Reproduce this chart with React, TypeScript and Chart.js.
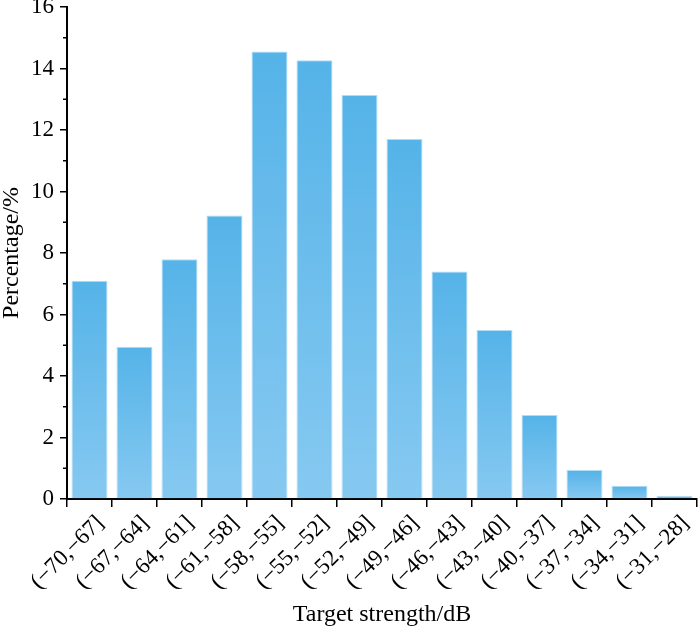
import React, { useEffect, useRef } from "react";
import { Chart, registerables } from "chart.js";

Chart.register(...registerables);

// bins of target strength (dB)
const categories: string[] = [
  "(−70,−67]", "(−67,−64]", "(−64,−61]", "(−61,−58]", "(−58,−55]",
  "(−55,−52]", "(−52,−49]", "(−49,−46]", "(−46,−43]", "(−43,−40]",
  "(−40,−37]", "(−37,−34]", "(−34,−31]", "(−31,−28]",
];
// percentage in each bin
const percentages: number[] = [
  7.1, 4.95, 7.8, 9.22, 14.55, 14.27, 13.14, 11.71, 7.4, 5.5, 2.73, 0.94, 0.43, 0.1,
];
const yTicks: number[] = [0, 2, 4, 6, 8, 10, 12, 14, 16];
const yMinorTicks: number[] = [1, 3, 5, 7, 9, 11, 13, 15];

const FONT = "'Liberation Serif', 'Times New Roman', serif";

// little minor ticks on the y axis
const minorTicks = {
  id: "minorTicks",
  afterDraw(chart: any) {
    const { ctx, scales } = chart;
    const y = scales.y;
    const x0 = y.right;
    ctx.save();
    ctx.strokeStyle = "#000";
    ctx.lineWidth = 1.5;
    yMinorTicks.forEach((v) => {
      const py = y.getPixelForValue(v);
      ctx.beginPath();
      ctx.moveTo(x0 - 4, py);
      ctx.lineTo(x0, py);
      ctx.stroke();
    });
    ctx.restore();
  },
};

const App: React.FC = () => {
  const canvasRef = useRef<HTMLCanvasElement | null>(null);
  const chartRef = useRef<Chart | null>(null);

  useEffect(() => {
    document.body.style.margin = "0";
    if (!canvasRef.current) return;
    if (chartRef.current) chartRef.current.destroy();

    chartRef.current = new Chart(canvasRef.current, {
      type: "bar",
      data: {
        labels: categories,
        datasets: [
          {
            data: percentages,
            backgroundColor: (c: any) => {
              const chart = c.chart;
              const ys = chart.scales?.y;
              if (!ys || c.raw === undefined) return "#6cbfee";
              const top = ys.getPixelForValue(c.raw);
              const bottom = ys.getPixelForValue(0);
              if (!isFinite(top) || bottom - top < 1) return "#7cc6ef";
              const g = chart.ctx.createLinearGradient(0, top, 0, bottom);
              g.addColorStop(0, "#55b3e8");
              g.addColorStop(1, "#86c9f1");
              return g;
            },
            borderColor: "rgba(170,216,245,0.9)",
            borderWidth: 1,
            categoryPercentage: 1,
            barPercentage: 0.8,
          },
        ],
      },
      options: {
        animation: false,
        responsive: false,
        layout: { padding: { top: 0, right: 3, left: 0, bottom: 0 } },
        plugins: {
          legend: { display: false },
          tooltip: { enabled: false },
        },
        scales: {
          x: {
            afterFit: (axis: any) => {
              axis.height = 128;
              axis.paddingLeft = 0;
              axis.paddingRight = 0;
            },
            grid: {
              display: true,
              drawOnChartArea: false,
              drawTicks: true,
              tickLength: 8,
              color: "#000",
              lineWidth: 1.5,
            },
            border: { display: true, color: "#000", width: 2 },
            ticks: {
              color: "#000",
              font: { family: FONT, size: 23 },
              maxRotation: 45,
              minRotation: 45,
              autoSkip: false,
              padding: 3,
              labelOffset: 11,
            },
            title: {
              display: true,
              text: "Target strength/dB",
              color: "#000",
              font: { family: FONT, size: 24, lineHeight: 1 },
              padding: { top: 0, bottom: 0 },
            },
          },
          y: {
            min: 0,
            max: 16,
            afterBuildTicks: (axis: any) => {
              axis.ticks = yTicks.map((v) => ({ value: v }));
            },
            afterFit: (axis: any) => {
              axis.width = 67;
              axis.paddingTop = 7;
              axis.paddingBottom = 0;
            },
            grid: {
              display: true,
              drawOnChartArea: false,
              drawTicks: true,
              tickLength: 7,
              color: "#000",
              lineWidth: 1.5,
            },
            border: { display: true, color: "#000", width: 2 },
            ticks: {
              color: "#000",
              font: { family: FONT, size: 23 },
              padding: 6,
            },
            title: {
              display: true,
              text: "Percentage/%",
              color: "#000",
              font: { family: FONT, size: 24, lineHeight: 1 },
              padding: { top: 0, bottom: 0 },
            },
          },
        },
      },
      plugins: [minorTicks],
    });

    return () => {
      if (chartRef.current) {
        chartRef.current.destroy();
        chartRef.current = null;
      }
    };
  }, []);

  return (
    <div style={{ width: 700, height: 627, background: "#fff" }}>
      <canvas ref={canvasRef} width={700} height={627} style={{ width: 700, height: 627 }} />
    </div>
  );
};

export default App;
